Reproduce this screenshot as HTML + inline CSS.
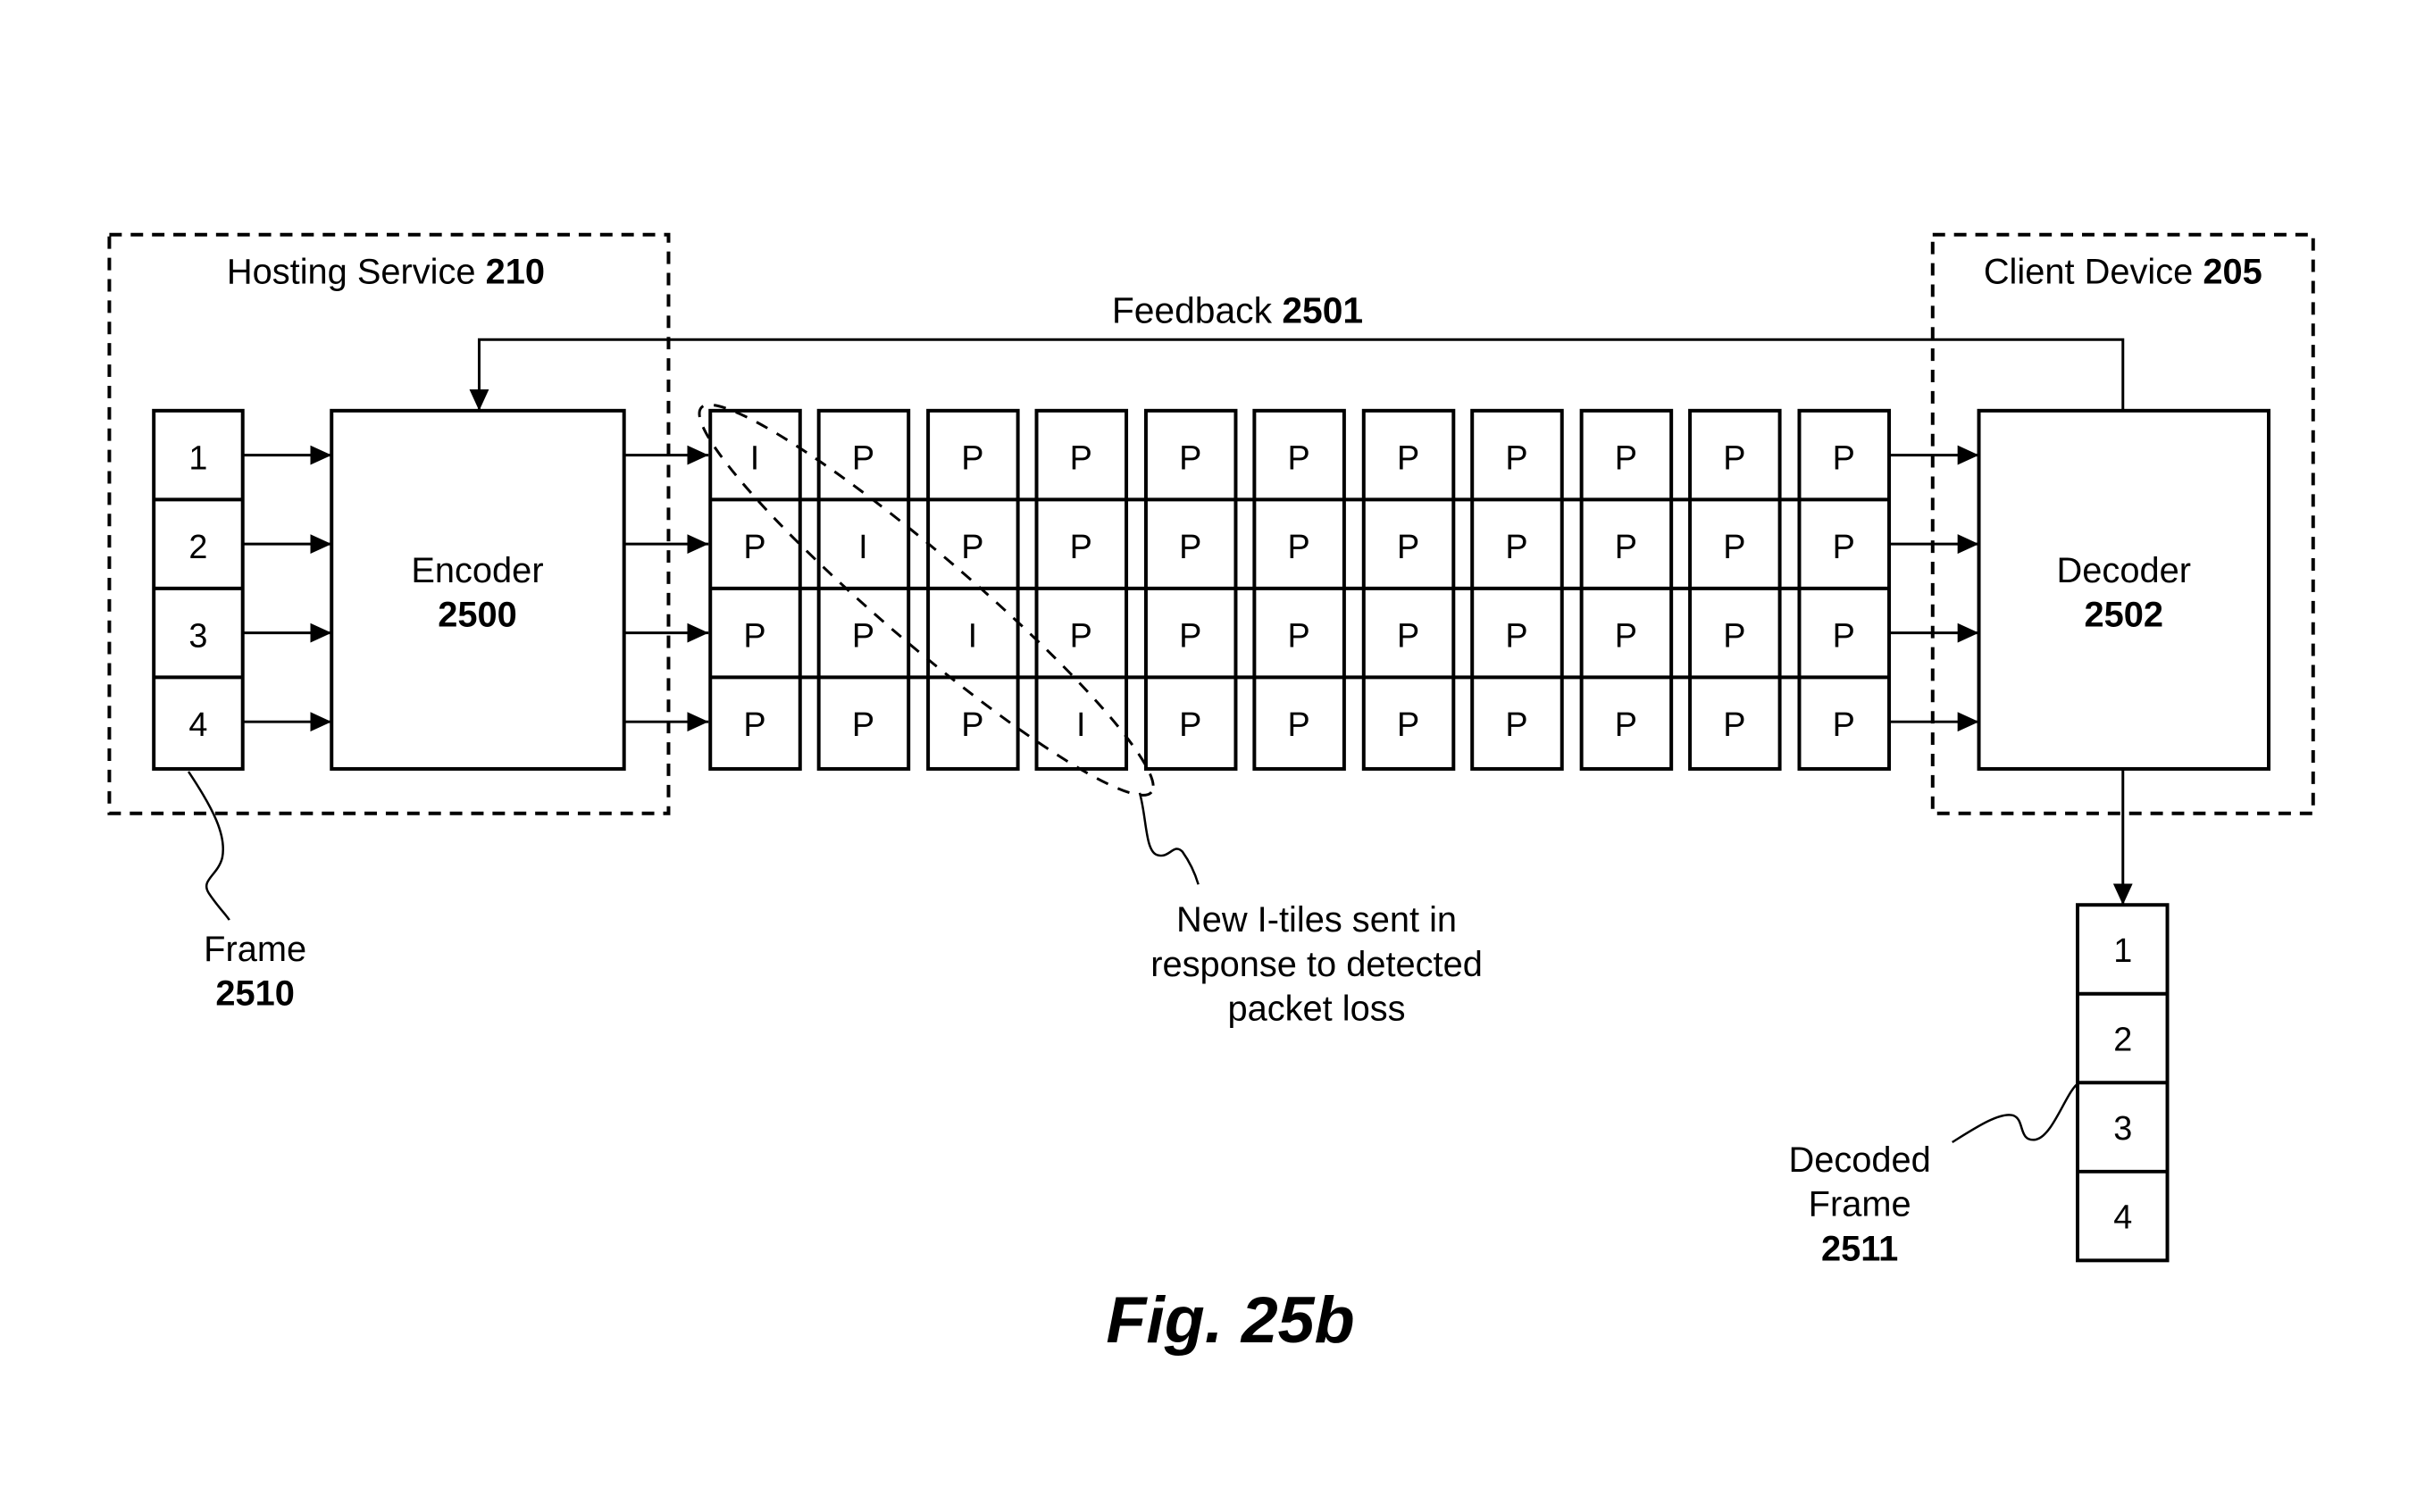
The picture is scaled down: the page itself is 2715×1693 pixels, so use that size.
<!DOCTYPE html>
<html><head><meta charset="utf-8"><style>
html,body{margin:0;padding:0;background:#fff;}
svg{display:block;}
text{font-family:"Liberation Sans",Arial,sans-serif;fill:#000;}
</style></head><body>
<svg width="2715" height="1693" viewBox="0 0 2715 1693" xmlns="http://www.w3.org/2000/svg">
<defs>
<marker id="ah" markerWidth="24" markerHeight="22" refX="24" refY="11" orient="auto" markerUnits="userSpaceOnUse">
<path d="M0,0 L24,11 L0,22 Z" fill="#000"/>
</marker>
</defs>
<g transform="scale(0.9953)">
<g fill="none" stroke="#000" stroke-width="4" stroke-dasharray="14,10">
<rect x="123" y="264" width="629" height="651"/>
<rect x="2174" y="264" width="428" height="651"/>
</g>
<text x="434" y="319" font-size="40" text-anchor="middle">Hosting Service <tspan font-weight="bold">210</tspan></text>
<text x="2388" y="319" font-size="40" text-anchor="middle">Client Device <tspan font-weight="bold">205</tspan></text>
<text x="1392" y="363" font-size="41" text-anchor="middle">Feedback <tspan font-weight="bold">2501</tspan></text>
<g fill="none" stroke="#000" stroke-width="3">
<polyline points="2388,462 2388,382 539,382 539,462" marker-end="url(#ah)"/>
</g>
<g fill="#fff" stroke="#000" stroke-width="4">
<rect x="173" y="462" width="100" height="403"/>
<rect x="373" y="462" width="329" height="403"/>
<rect x="2226" y="462" width="326" height="403"/>
<rect x="2337" y="1018" width="101" height="400"/>
</g>
<g stroke="#000" stroke-width="4">
<line x1="173" y1="562" x2="273" y2="562"/><line x1="173" y1="662" x2="273" y2="662"/><line x1="173" y1="762" x2="273" y2="762"/>
<line x1="2337" y1="1118" x2="2438" y2="1118"/><line x1="2337" y1="1218" x2="2438" y2="1218"/><line x1="2337" y1="1318" x2="2438" y2="1318"/>
</g>
<g font-size="38" text-anchor="middle">
<text x="223" y="528">1</text><text x="223" y="628">2</text><text x="223" y="728">3</text><text x="223" y="828">4</text>
<text x="2388" y="1082">1</text><text x="2388" y="1182">2</text><text x="2388" y="1282">3</text><text x="2388" y="1382">4</text>
</g>
<text x="537" y="655" font-size="40" text-anchor="middle">Encoder</text>
<text x="537" y="705" font-size="40" text-anchor="middle" font-weight="bold">2500</text>
<text x="2389" y="655" font-size="40" text-anchor="middle">Decoder</text>
<text x="2389" y="705" font-size="40" text-anchor="middle" font-weight="bold">2502</text>
<g stroke="#000" stroke-width="3" marker-end="url(#ah)">
<line x1="273" y1="512" x2="373" y2="512"/><line x1="273" y1="612" x2="373" y2="612"/><line x1="273" y1="712" x2="373" y2="712"/><line x1="273" y1="812" x2="373" y2="812"/>
<line x1="702" y1="512" x2="797" y2="512"/><line x1="702" y1="612" x2="797" y2="612"/><line x1="702" y1="712" x2="797" y2="712"/><line x1="702" y1="812" x2="797" y2="812"/>
<line x1="2125" y1="512" x2="2226" y2="512"/><line x1="2125" y1="612" x2="2226" y2="612"/><line x1="2125" y1="712" x2="2226" y2="712"/><line x1="2125" y1="812" x2="2226" y2="812"/>
<line x1="2388" y1="865" x2="2388" y2="1018"/>
</g>
<g fill="none" stroke="#000" stroke-width="4">
<rect x="799" y="462" width="101" height="403"/><rect x="921" y="462" width="101" height="403"/><rect x="1044" y="462" width="101" height="403"/><rect x="1166" y="462" width="101" height="403"/><rect x="1289" y="462" width="101" height="403"/><rect x="1411" y="462" width="101" height="403"/><rect x="1534" y="462" width="101" height="403"/><rect x="1656" y="462" width="101" height="403"/><rect x="1779" y="462" width="101" height="403"/><rect x="1901" y="462" width="101" height="403"/><rect x="2024" y="462" width="101" height="403"/>
<path d="M799 562H2125M799 662H2125M799 762H2125"/>
</g>
<g font-size="38" text-anchor="middle">
<text x="849" y="528">I</text><text x="849" y="628">P</text><text x="849" y="728">P</text><text x="849" y="828">P</text>
<text x="971" y="528">P</text><text x="971" y="628">I</text><text x="971" y="728">P</text><text x="971" y="828">P</text>
<text x="1094" y="528">P</text><text x="1094" y="628">P</text><text x="1094" y="728">I</text><text x="1094" y="828">P</text>
<text x="1216" y="528">P</text><text x="1216" y="628">P</text><text x="1216" y="728">P</text><text x="1216" y="828">I</text>
<text x="1339" y="528">P</text><text x="1339" y="628">P</text><text x="1339" y="728">P</text><text x="1339" y="828">P</text>
<text x="1461" y="528">P</text><text x="1461" y="628">P</text><text x="1461" y="728">P</text><text x="1461" y="828">P</text>
<text x="1584" y="528">P</text><text x="1584" y="628">P</text><text x="1584" y="728">P</text><text x="1584" y="828">P</text>
<text x="1706" y="528">P</text><text x="1706" y="628">P</text><text x="1706" y="728">P</text><text x="1706" y="828">P</text>
<text x="1829" y="528">P</text><text x="1829" y="628">P</text><text x="1829" y="728">P</text><text x="1829" y="828">P</text>
<text x="1951" y="528">P</text><text x="1951" y="628">P</text><text x="1951" y="728">P</text><text x="1951" y="828">P</text>
<text x="2074" y="528">P</text><text x="2074" y="628">P</text><text x="2074" y="728">P</text><text x="2074" y="828">P</text>
</g>
<ellipse cx="1042" cy="675" rx="333" ry="50" transform="rotate(40.5 1042 675)" fill="none" stroke="#000" stroke-width="3" stroke-dasharray="14,12"/>
<g fill="none" stroke="#000" stroke-width="2.5">
<path d="M1282,892 C1290,920 1288,958 1302,962 C1316,966 1320,948 1330,958 C1340,972 1345,985 1348,995"/>
<path d="M212,868 C240,910 255,940 250,965 C245,985 225,990 235,1005 C245,1020 255,1030 258,1035"/>
<path d="M2196,1285 C2220,1270 2250,1250 2265,1255 C2278,1260 2270,1285 2290,1282 C2310,1278 2325,1225 2339,1218"/>
</g>
<text x="287" y="1081" font-size="40" text-anchor="middle">Frame</text>
<text x="287" y="1131" font-size="40" text-anchor="middle" font-weight="bold">2510</text>
<text x="2092" y="1318" font-size="40" text-anchor="middle">Decoded</text>
<text x="2092" y="1368" font-size="40" text-anchor="middle">Frame</text>
<text x="2092" y="1418" font-size="40" text-anchor="middle" font-weight="bold">2511</text>
<text x="1481" y="1048" font-size="40" text-anchor="middle">New I-tiles sent in</text>
<text x="1481" y="1098" font-size="40" text-anchor="middle">response to detected</text>
<text x="1481" y="1148" font-size="40" text-anchor="middle">packet loss</text>
<text x="1384" y="1510" font-size="74" text-anchor="middle" font-weight="bold" font-style="italic">Fig. 25b</text>
</g>
</svg>
</body></html>
